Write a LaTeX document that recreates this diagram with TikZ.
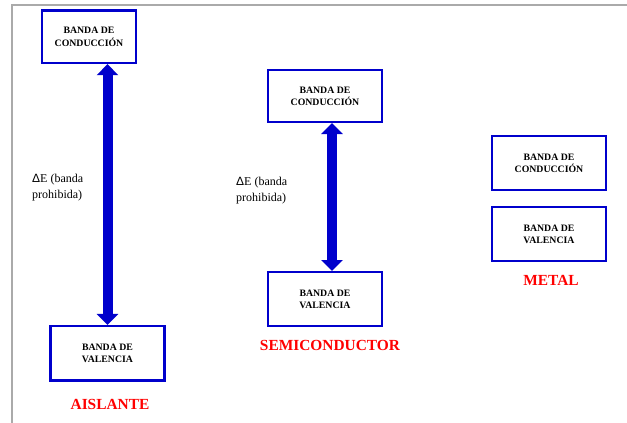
\documentclass[tikz,border=0pt]{standalone}
\usepackage{fontspec}
\setmainfont{Liberation Serif}
\newfontfamily\deltafont{Liberation Sans}
\usetikzlibrary{arrows.meta,positioning}
\definecolor{bandblue}{RGB}{0,0,204}
\definecolor{framegray}{RGB}{170,170,170}

\begin{document}
\begin{tikzpicture}[x=1pt,y=-1pt,
    banda/.style={draw=bandblue,line width=2.4pt,inner sep=0pt,align=center,
      font=\fontsize{9.8}{12.3}\selectfont\bfseries},
    gap/.style={draw=bandblue,line width=10pt,
      {Triangle[width=21pt,length=11pt]}-{Triangle[width=21pt,length=11pt]}},
    tipo/.style={text=red,font=\fontsize{15.4}{18}\selectfont\bfseries},
    nota/.style={anchor=west,align=left,inner sep=0pt,font=\fontsize{12}{16}\selectfont}]
        \useasboundingbox (0,0) rectangle (627,423);
        \draw[framegray,line width=2pt] (627,4.5) -- (11.5,4.5) -- (11.5,423);

        \node[banda,minimum width=93.5pt,minimum height=52.5pt] (aisc) at (89,36.7) {BANDA DE\\CONDUCCIÓN};
        \node[banda,minimum width=114.3pt,minimum height=54.3pt] (aisv) at (107.5,353.3) {BANDA DE\\VALENCIA};
        \node[tipo] (aisl) at (110,404) {AISLANTE};
        \node[nota] (aisg) at (32,188) {{\deltafont Δ}E (banda\\prohibida)};
        \draw[gap] (aisv.north) -- (aisv.north |- aisc.south);

        \node[banda,minimum width=113.6pt,minimum height=51.6pt] (semc) at (325,96) {BANDA DE\\CONDUCCIÓN};
        \node[banda,minimum width=113.6pt,minimum height=53.6pt] (semv) at (325,299) {BANDA DE\\VALENCIA};
        \node[tipo] (seml) at (330,345) {SEMICONDUCTOR};
        \node[nota] (semg) at (236,191) {{\deltafont Δ}E (banda\\prohibida)};
        \draw[gap] ([xshift=7pt]semc.south) -- ([xshift=7pt]semv.north);

        \node[banda,minimum width=113.6pt,minimum height=53.6pt] (metc) at (549,163) {BANDA DE\\CONDUCCIÓN};
        \node[banda,minimum width=113.6pt,minimum height=53.6pt] (metv) at (549,234) {BANDA DE\\VALENCIA};
        \node[tipo] (metl) at (551,280) {METAL};
      \end{tikzpicture}
\end{document}
